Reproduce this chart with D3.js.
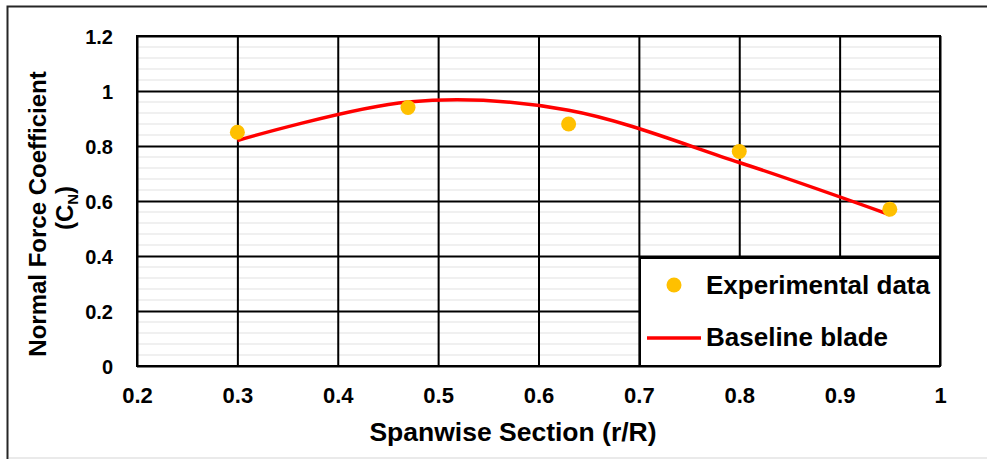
<!DOCTYPE html>
<html>
<head>
<meta charset="utf-8">
<script src="https://cdn.jsdelivr.net/npm/d3@7"></script>
<style>
  html, body { margin: 0; padding: 0; background: #fff; }
  svg { display: block; }
  text { font-family: "Liberation Sans", Arial, sans-serif; font-weight: bold; fill: #000; }
</style>
</head>
<body>
<svg id="chart" width="987" height="459"></svg>
<script>
// Spanwise stations (r/R)
const spanStations = [0.3, 0.47, 0.63, 0.8, 0.95];
// Measured normal force coefficient
const experimentalCN = [0.85, 0.94, 0.88, 0.78, 0.57];
// Computed normal force coefficient for the baseline blade
const baselineCN = [0.82, 0.96, 0.93, 0.74, 0.55];
// Axis ticks
const xTicks = [0.2, 0.3, 0.4, 0.5, 0.6, 0.7, 0.8, 0.9, 1.0];
const yTicks = [0, 0.2, 0.4, 0.6, 0.8, 1.0, 1.2];
const yMinorTicks = d3.range(0, 1.2001, 0.04);

const svg = d3.select("#chart");
const W = 987, H = 459;
const plot = { left: 137, right: 940, top: 36, bottom: 366 };

const x = d3.scaleLinear().domain([0.2, 1.0]).range([plot.left, plot.right]);
const y = d3.scaleLinear().domain([0, 1.2]).range([plot.bottom, plot.top]);

// Outer chart frame
svg.append("rect").attr("x", 0).attr("y", 0).attr("width", W).attr("height", H).attr("fill", "#fff");
svg.append("path")
  .attr("d", `M${W + 5},6.5 H7.5 V${H + 5}`)
  .attr("fill", "none").attr("stroke", "#262626").attr("stroke-width", 2);
svg.append("line").attr("x1", 9).attr("x2", W).attr("y1", 458).attr("y2", 458)
  .attr("stroke", "#e3e3e3").attr("stroke-width", 1.5);

// Minor horizontal gridlines
svg.append("g").selectAll("line")
  .data(yMinorTicks.filter(v => Math.abs(v / 0.2 - Math.round(v / 0.2)) > 1e-6))
  .join("line")
  .attr("x1", plot.left).attr("x2", plot.right)
  .attr("y1", d => y(d)).attr("y2", d => y(d))
  .attr("stroke", "#ebebeb").attr("stroke-width", 1.5);

// Major gridlines via axes
const gx = svg.append("g").attr("transform", `translate(0,${plot.bottom})`)
  .call(d3.axisBottom(x).tickValues(xTicks).tickSize(-(plot.bottom - plot.top)).tickFormat(d3.format("")));
const gy = svg.append("g").attr("transform", `translate(${plot.left},0)`)
  .call(d3.axisLeft(y).tickValues(yTicks).tickSize(-(plot.right - plot.left)).tickFormat(d3.format("")));
[gx, gy].forEach(g => {
  g.select(".domain").remove();
  g.selectAll(".tick line").attr("stroke", "#000").attr("stroke-width", 2);
});
gx.selectAll(".tick text").attr("dy", null).attr("y", 37).attr("font-size", 22);
gy.selectAll(".tick text").attr("x", -24).attr("dy", "0.35em").attr("font-size", 20);

// Plot area border
svg.append("rect")
  .attr("x", plot.left).attr("y", plot.top)
  .attr("width", plot.right - plot.left).attr("height", plot.bottom - plot.top)
  .attr("fill", "none").attr("stroke", "#000").attr("stroke-width", 2);

// Baseline blade curve
const line = d3.line()
  .x((d, i) => x(spanStations[i]))
  .y(d => y(d))
  .curve(d3.curveCardinal.tension(0));
svg.append("path")
  .datum(baselineCN)
  .attr("d", line)
  .attr("fill", "none").attr("stroke", "#ff0000").attr("stroke-width", 3.5);

// Experimental points
svg.append("g").selectAll("circle")
  .data(experimentalCN)
  .join("circle")
  .attr("cx", (d, i) => x(spanStations[i]))
  .attr("cy", d => y(d))
  .attr("r", 7.5)
  .attr("fill", "#ffc000");

// Legend
const lg = svg.append("g");
lg.append("rect").attr("x", 640).attr("y", 258).attr("width", 300).attr("height", 108)
  .attr("fill", "#fff").attr("stroke", "#000").attr("stroke-width", 2);
lg.append("circle").attr("cx", 674).attr("cy", 285).attr("r", 7.5).attr("fill", "#ffc000");
lg.append("text").attr("x", 706).attr("y", 294).attr("font-size", 26).text("Experimental data");
lg.append("line").attr("x1", 647).attr("x2", 701).attr("y1", 338).attr("y2", 338)
  .attr("stroke", "#ff0000").attr("stroke-width", 3.5);
lg.append("text").attr("x", 706).attr("y", 346).attr("font-size", 26).text("Baseline blade");

// Axis titles
svg.append("text").attr("x", 513).attr("y", 441).attr("text-anchor", "middle")
  .attr("font-size", 26.5).text("Spanwise Section (r/R)");

svg.append("text").attr("text-anchor", "middle").attr("font-size", 24)
  .attr("transform", "translate(46,214) rotate(-90)")
  .text("Normal Force Coefficient");
const l2 = svg.append("text").attr("text-anchor", "middle").attr("font-size", 24)
  .attr("transform", "translate(73,208) rotate(-90)");
l2.append("tspan").text("(C");
l2.append("tspan").attr("font-size", 15).attr("dy", 5).text("N");
l2.append("tspan").attr("dy", -5).text(")");
</script>
</body>
</html>
